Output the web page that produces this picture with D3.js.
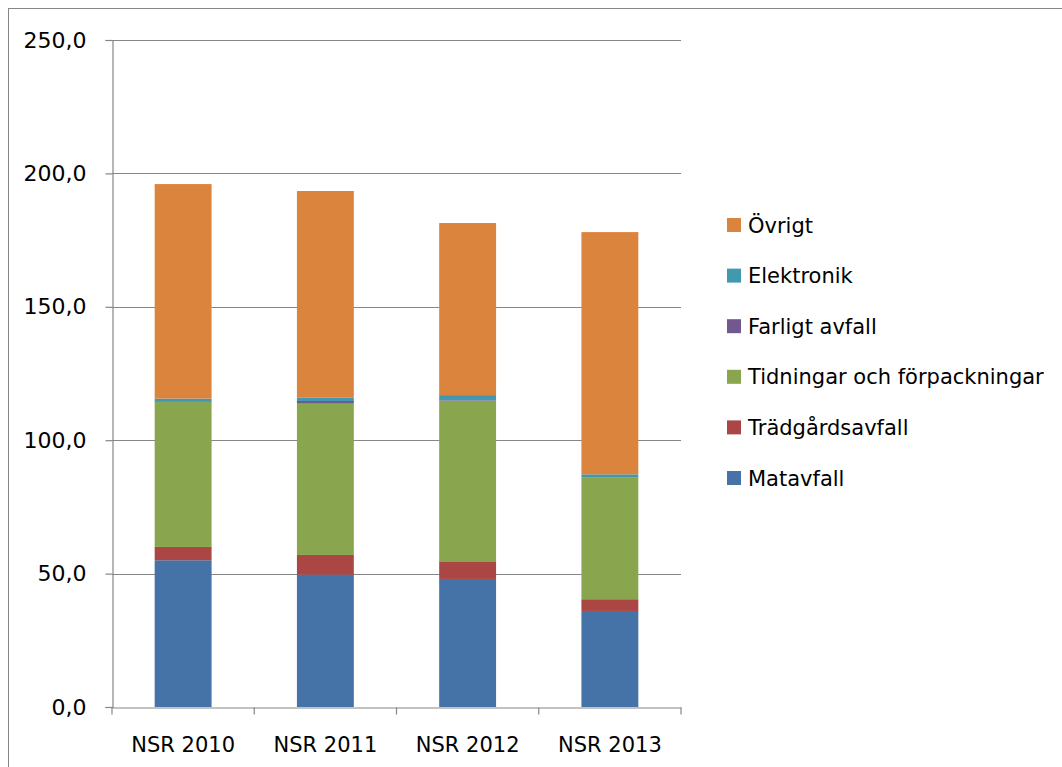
<!DOCTYPE html>
<html><head><meta charset="utf-8">
<script src="https://cdn.jsdelivr.net/npm/d3@7/dist/d3.min.js"></script>
<style>body{margin:0;background:#fff}svg{display:block}text{font-family:"DejaVu Sans",sans-serif;fill:#000}</style>
</head><body><svg id="c" width="1062" height="767"></svg>
<script>
const categories = ["NSR 2010","NSR 2011","NSR 2012","NSR 2013"];
const seriesNames = ["Matavfall","Trädgårdsavfall","Tidningar och förpackningar","Farligt avfall","Elektronik","Övrigt"];
const matavfall = [55.0, 49.6, 48.0, 36.0];
const tradgardsavfall = [5.0, 7.4, 6.6, 4.4];
const tidningar = [54.3, 56.7, 60.2, 45.7];
const farligt = [0.3, 1.0, 0.2, 0.1];
const elektronik = [1.0, 1.2, 1.9, 1.0];
const ovrigt = [80.4, 77.5, 64.5, 90.8];
const colors = ["#4572A7","#AA4643","#89A54E","#71588F","#4198AF","#DB843D"];
const yTicks = [0,50,100,150,200,250];

const seriesVals = [matavfall, tradgardsavfall, tidningar, farligt, elektronik, ovrigt];
const rows = categories.map((c,i)=>{const r={cat:c}; seriesNames.forEach((s,j)=>r[s]=seriesVals[j][i]); return r;});
const stack = d3.stack().keys(seriesNames)(rows);

const svg = d3.select("#c");
const L=112,R=681,T=40,B=707;
svg.append("rect").attr("x",8.5).attr("y",8.5).attr("width",1100).attr("height",800).attr("fill","none").attr("stroke","#868686");

const x = d3.scaleBand().domain(categories).range([L,R]).paddingInner(0.6).paddingOuter(0.3);
const xb = d3.scaleBand().domain(categories).range([L,R]);
const y = d3.scaleLinear().domain([0,250]).range([B,T]);
const fmt = d => d3.format(".1f")(d).replace(".",",");

// gridlines
svg.append("g").selectAll("line").data(yTicks.filter(d=>d>0)).join("line")
  .attr("x1",L).attr("x2",R).attr("y1",d=>Math.round(y(d))+0.5).attr("y2",d=>Math.round(y(d))+0.5)
  .attr("stroke","#868686").attr("stroke-width",1.2);

// bars
svg.append("g").selectAll("g").data(stack).join("g").attr("fill",(d,i)=>colors[i])
  .selectAll("rect").data(d=>d).join("rect")
  .attr("x",d=>x(d.data.cat)).attr("width",x.bandwidth())
  .attr("y",d=>y(d[1])).attr("height",d=>Math.max(0,y(d[0])-y(d[1])));

// y axis
const ya = svg.append("g").attr("transform",`translate(${L+0.5},0)`)
  .call(d3.axisLeft(y).tickValues(yTicks).tickFormat(fmt).tickSize(7).tickPadding(19));
ya.select(".domain").attr("stroke","#868686").attr("stroke-width",1.2);
ya.selectAll(".tick line").attr("stroke","#868686").attr("stroke-width",1.2);
ya.selectAll("text").attr("font-size",22).attr("font-family","DejaVu Sans").attr("fill","#000");

// x axis
const xa = svg.append("g").attr("transform",`translate(0,${Math.round(B)+0.5})`)
  .call(d3.axisBottom(xb).tickSize(0).tickPadding(30));
xa.select(".domain").attr("stroke","#868686").attr("stroke-width",1.2);
xa.selectAll("text").attr("font-size",21).attr("font-family","DejaVu Sans").attr("fill","#000");
const bounds = categories.map(c=>xb(c)).concat([R]);
xa.append("g").selectAll("line").data(bounds).join("line")
  .attr("x1",d=>d).attr("x2",d=>d).attr("y1",0).attr("y2",7).attr("stroke","#868686").attr("stroke-width",1.2);

// legend
const legendOrder = seriesNames.map((s,i)=>({name:s,color:colors[i]})).reverse();
const lg = svg.append("g").selectAll("g").data(legendOrder).join("g")
  .attr("transform",(d,i)=>`translate(727,${225+i*50.6})`);
lg.append("rect").attr("x",0).attr("y",-7).attr("width",14).attr("height",14).attr("fill",d=>d.color);
lg.append("text").attr("x",21).attr("y",0).attr("dy","0.36em").attr("font-size",21).text(d=>d.name);
</script></body></html>
